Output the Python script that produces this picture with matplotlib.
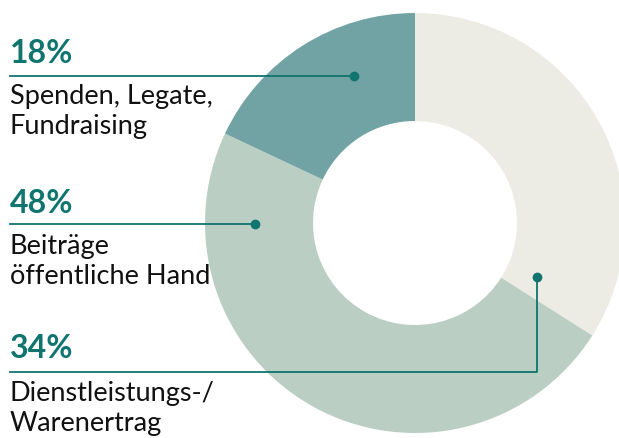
import matplotlib.pyplot as plt

# data
shares = [34, 48, 18]
pct_labels = ["34%", "48%", "18%"]
names = ["Dienstleistungs-/\nWarenertrag", "Beiträge\nöffentliche Hand", "Spenden, Legate,\nFundraising"]
colors = ["#ecebe4", "#bbcec4", "#72a3a4"]

teal = "#0f756e"
W, H = 619, 438

fig = plt.figure(figsize=(W / 100, H / 100), dpi=100)
ax = fig.add_axes([0, 0, 1, 1])

ax.pie(shares, colors=colors, startangle=90, counterclock=False,
       center=(415, H - 223), radius=210,
       wedgeprops=dict(width=108, linewidth=0))

ax.set_xlim(0, W)
ax.set_ylim(0, H)
ax.set_aspect("equal")
ax.axis("off")

font = ["Lato", "DejaVu Sans"]

# label layout: (pct baseline, rule y, dot x, dot y, line gap)
layout = [
    (358, 372, 537, 277, 43),
    (213, 224, 255, 224, 41),
    (63, 76, 354, 76, 41),
]

for pct, name, (yb, yl, dx, dy, gap) in zip(pct_labels, names, layout):
    ax.text(10, H - yb, pct, fontsize=23, fontweight="bold", color=teal,
            family=font, va="baseline", ha="left")
    if dy == yl:
        ax.plot([10, dx], [H - yl, H - yl], color=teal, lw=1.3)
    else:
        ax.plot([10, dx, dx], [H - yl, H - yl, H - dy], color=teal, lw=1.3)
    ax.plot(dx, H - dy, "o", color=teal, ms=6)
    first, second = name.split("\n")
    ax.text(10, H - (yb + gap), first, fontsize=19.5, color="#111111",
            family=font, va="baseline", ha="left")
    ax.text(10, H - (yb + gap + 30), second, fontsize=19.5, color="#111111",
            family=font, va="baseline", ha="left")

fig.savefig("out.png", dpi=100)
